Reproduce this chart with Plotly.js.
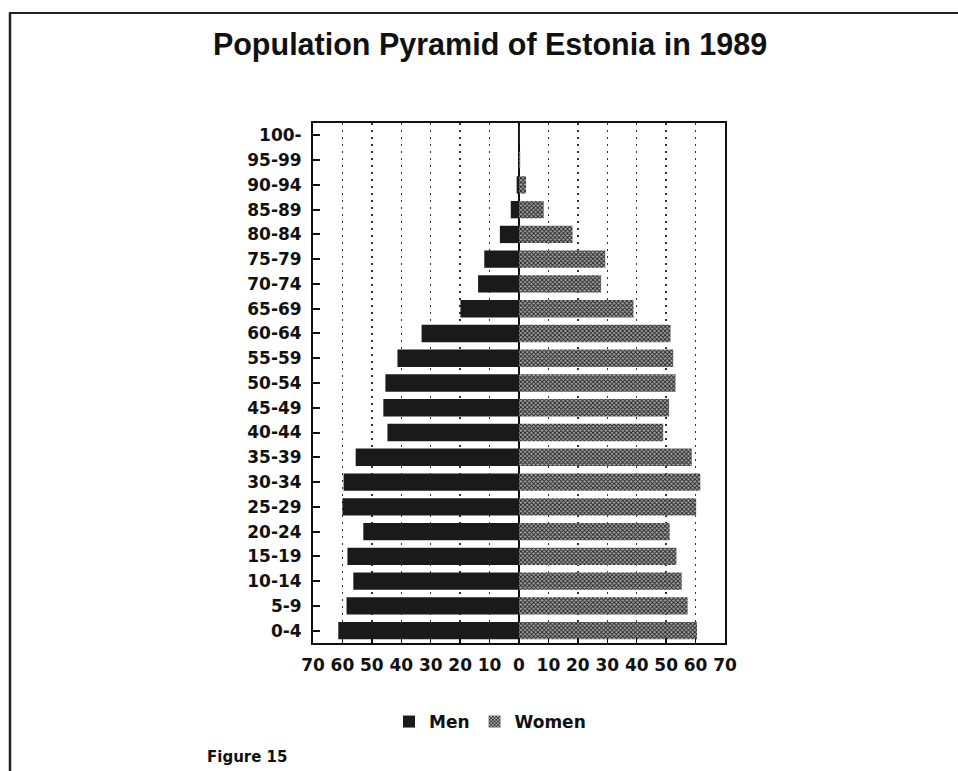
<!DOCTYPE html>
<html>
<head>
<meta charset="utf-8">
<script src="https://cdn.plot.ly/plotly-3.0.1.min.js"></script>
<style>html,body{margin:0;padding:0;background:#fff;}#chart{width:958px;height:771px;}</style>
</head>
<body>
<div id="chart"></div>
<script>
// Age groups, bottom to top
const ageGroups = ["0-4","5-9","10-14","15-19","20-24","25-29","30-34","35-39","40-44","45-49","50-54","55-59","60-64","65-69","70-74","75-79","80-84","85-89","90-94","95-99","100-"];
// Population in thousands
const menValues   = [61.4, 58.6, 56.3, 58.3, 52.9, 60.0, 59.6, 55.5, 44.7, 46.1, 45.4, 41.3, 33.1, 19.9, 13.9, 11.8, 6.5, 2.8, 0.8, 0.2, 0.05];
const womenValues = [60.5, 57.3, 55.3, 53.5, 51.2, 60.2, 61.6, 58.7, 49.0, 51.0, 53.2, 52.4, 51.5, 38.9, 27.9, 29.3, 18.2, 8.4, 2.4, 0.4, 0.1];
const xTickVals   = [-70,-60,-50,-40,-30,-20,-10,0,10,20,30,40,50,60,70];
const xTickText   = ["70","60","50","40","30","20","10","0","10","20","30","40","50","60","70"];

const labelFont = {family: "DejaVu Sans", size: 17, color: "#111", weight: "bold"};

const traces = [
  {
    type: "bar", orientation: "h", name: "Men",
    y: ageGroups, x: menValues.map(v => -v),
    marker: {color: "#1a1a1a", line: {width: 0}},
    hoverinfo: "skip"
  },
  {
    type: "bar", orientation: "h", name: "Women",
    y: ageGroups, x: womenValues,
    marker: {
      color: "#222",
      line: {width: 0},
      pattern: {shape: "x", fillmode: "replace", fgcolor: "#1e1e1e", bgcolor: "#a8a8a8", size: 3, solidity: 0.5}
    },
    hoverinfo: "skip"
  }
];

const L = 313, R = 725, T = 123, B = 643, W = 958, H = 771;
const px = x => (x - L) / (R - L);
const py = y => (B - y) / (B - T);

const layout = {
  width: W, height: H,
  margin: {l: L, r: W - R, t: T, b: H - B, pad: 0},
  paper_bgcolor: "#fff", plot_bgcolor: "#fff",
  barmode: "relative", bargap: 0.3,
  showlegend: true,
  title: {
    text: "Population Pyramid of Estonia in 1989",
    font: {family: "Liberation Sans", size: 30.5, color: "#111", weight: "bold"},
    x: 490 / W, xref: "container", xanchor: "center",
    y: 1 - 44 / H, yref: "container", yanchor: "middle"
  },
  xaxis: {
    range: [-70, 70], tickmode: "array", tickvals: xTickVals, ticktext: xTickText,
    showgrid: true, gridcolor: "#333", griddash: "2px,5px", gridwidth: 1.5,
    zeroline: true, zerolinecolor: "#111", zerolinewidth: 1.5,
    showline: true, linecolor: "#111", linewidth: 2, mirror: true,
    ticks: "inside", ticklen: 5, tickwidth: 1.5, tickcolor: "#111",
    tickfont: labelFont, ticklabelstandoff: 6, fixedrange: true
  },
  yaxis: {
    type: "category", categoryorder: "array", categoryarray: ageGroups,
    showgrid: false, zeroline: false,
    showline: true, linecolor: "#111", linewidth: 2, mirror: true,
    ticks: "inside", ticklen: 7, tickwidth: 2, tickcolor: "#111",
    tickfont: labelFont, ticklabelstandoff: 6, fixedrange: true
  },
  legend: {
    orientation: "h", x: px(490), xanchor: "center", y: py(722), yanchor: "middle",
    font: {family: "DejaVu Sans", size: 17, color: "#111", weight: "bold"},
    bgcolor: "rgba(0,0,0,0)", itemsizing: "constant", traceorder: "normal"
  },
  annotations: [
    {
      text: "Figure 15", xref: "paper", yref: "paper",
      x: px(205), y: py(757), xanchor: "left", yanchor: "middle", showarrow: false,
      font: {family: "DejaVu Sans", size: 15, color: "#111", weight: "bold"}
    }
  ],
  shapes: [
    {type: "line", xref: "paper", yref: "paper", x0: px(9), x1: px(958), y0: py(13), y1: py(13), line: {color: "#222", width: 2}},
    {type: "line", xref: "paper", yref: "paper", x0: px(10), x1: px(10), y0: py(13), y1: py(771), line: {color: "#222", width: 2.5}}
  ]
};

Plotly.newPlot("chart", traces, layout, {displayModeBar: false, staticPlot: true});
</script>
</body>
</html>
